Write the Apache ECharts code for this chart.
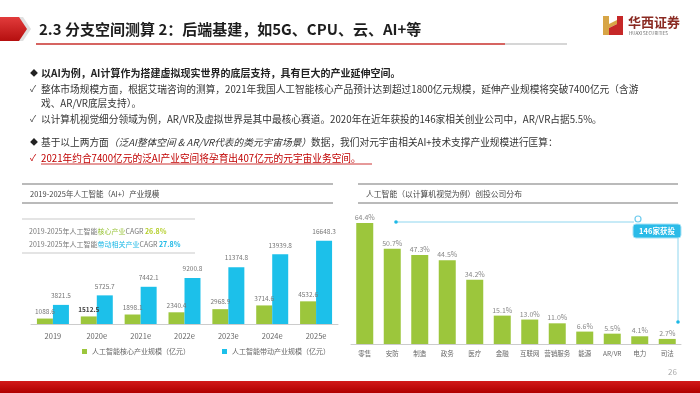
<!DOCTYPE html>
<html><head><meta charset="utf-8">
<script src="https://cdn.jsdelivr.net/npm/echarts@6/dist/echarts.min.js"></script>
<style>html,body{margin:0;padding:0;background:#fff}#c{width:700px;height:393px}</style>
</head><body><div id="c"></div>
<script>
const leftCategories = ['2019','2020e','2021e','2022e','2023e','2024e','2025e'];
const coreValues = [1088.6, 1512.5, 1898.1, 2340.4, 2968.9, 3714.6, 4532.6];
const drivenValues = [3821.5, 5725.7, 7442.1, 9200.8, 11374.8, 13939.8, 16648.3];
const coreName = '人工智能核心产业规模（亿元）';
const drivenName = '人工智能带动产业规模（亿元）';
const rightCategories = ['零售','安防','制造','政务','医疗','金融','互联网','营销服务','能源','AR/VR','电力','司法'];
const rightValues = [64.4, 50.7, 47.3, 44.5, 34.2, 15.1, 13.0, 11.0, 6.6, 5.5, 4.1, 2.7];

const GREEN = '#9cc63c', BLUE = '#1cc0ea', RED = '#c00000';
const FONT = '"Noto Sans CJK SC", "Noto Sans", sans-serif';

const chart = echarts.init(document.getElementById('c'), null, {renderer: 'canvas'});

function txt(x, y, text, style) {
  return {type: 'text', x: x, y: y, style: Object.assign({text: text, fontFamily: FONT, fontSize: 10, fill: '#333', textVerticalAlign: 'middle'}, style || {})};
}
function line(x1, y1, x2, y2, stroke, w) {
  return {type: 'line', shape: {x1: x1, y1: y1, x2: x2, y2: y2}, style: {stroke: stroke, lineWidth: w || 1}};
}

const graphics = [
  // title arrow
  {type: 'polygon', shape: {points: [[0, 17], [23, 17], [31, 29], [23, 41], [0, 41]]}, style: {fill: '#e0e0e0'}},
  {type: 'polygon', shape: {points: [[0, 17], [19, 17], [27, 29], [19, 41], [0, 41]]}, style: {fill: {type: 'linear', x: 0, y: 0, x2: 0, y2: 1, colorStops: [{offset: 0, color: '#e23b3b'}, {offset: 1, color: '#b50f0f'}]}}},
  txt(39, 29.5, '2.3 分支空间测算 2：后端基建，如5G、CPU、云、AI+等', {fontSize: 15, fontWeight: 'bold', fill: '#1e1e1e'}),
  line(36, 44, 505, 44, '#c9302c', 1.5),
  line(505, 44, 567, 44, '#c8c8c8', 1.5),
  // logo
  {type: 'polygon', shape: {points: [[603, 16], [609, 16], [609, 35], [603, 35]]}, style: {fill: '#d7a546'}},
  {type: 'polygon', shape: {points: [[609, 24], [617, 20], [617, 24], [609, 28]]}, style: {fill: '#d7a546'}},
  {type: 'polygon', shape: {points: [[617, 16], [623, 16], [623, 35], [617, 35]]}, style: {fill: '#c62828'}},
  {type: 'polygon', shape: {points: [[609, 28], [617, 24], [617, 35], [609, 35]]}, style: {fill: '#c62828'}},
  txt(628, 22, '华西证券', {fontSize: 13, fill: '#8a2a22', fontWeight: 'bold'}),
  txt(629, 33, 'HUAXI SECURITIES', {fontSize: 4.5, fill: '#666'}),
  // bullets
  txt(30, 73, '◆', {fontSize: 8, fill: '#222'}),
  txt(41, 73, '以AI为例，AI计算作为搭建虚拟现实世界的底层支持，具有巨大的产业延伸空间。', {fontSize: 10, fill: '#222', fontWeight: 'bold'}),
  txt(30, 89, '✓', {fontSize: 9, fill: '#444'}),
  txt(41, 89, '整体市场规模方面，根据艾瑞咨询的测算，2021年我国人工智能核心产品预计达到超过1800亿元规模，延伸产业规模将突破7400亿元（含游', {fontSize: 9.7, fill: '#333'}),
  txt(41, 103, '戏、AR/VR底层支持）。', {fontSize: 9.7, fill: '#333'}),
  txt(30, 119, '✓', {fontSize: 9, fill: '#444'}),
  txt(41, 119, '以计算机视觉细分领域为例，AR/VR及虚拟世界是其中最核心赛道。2020年在近年获投的146家相关创业公司中，AR/VR占据5.5%。', {fontSize: 9.7, fill: '#333'}),
  txt(30, 142, '◆', {fontSize: 8, fill: '#222'}),
  {type: 'text', x: 41, y: 142, style: {text: '{n|基于以上两方面}{i|（泛AI整体空间 & AR/VR代表的类元宇宙场景）}{n|数据，我们对元宇宙相关AI+技术支撑产业规模进行匡算：}', fontFamily: FONT, fontSize: 9.7, fill: '#333', textVerticalAlign: 'middle',
    rich: {n: {fontFamily: FONT, fontSize: 9.7, fill: '#333'}, i: {fontFamily: FONT, fontSize: 9.7, fill: '#333', fontStyle: 'italic'}}}},
  txt(30, 158, '✓', {fontSize: 9, fill: RED}),
  txt(41, 158, '2021年约合7400亿元的泛AI产业空间将孕育出407亿元的元宇宙业务空间。', {fontSize: 9.7, fill: RED}),
  line(41, 164, 372, 164, RED, 0.8),
  // left panel header
  line(22, 184, 333, 184, '#777', 1.2),
  txt(30, 194, '2019-2025年人工智能（AI+）产业规模', {fontSize: 7.5, fill: '#444'}),
  line(22, 203, 333, 203, '#777', 1.2),
  line(22, 219, 195, 219, '#bbb', 0.8),
  {type: 'text', x: 29, y: 231, style: {text: '{g|2019-2025年人工智能}{c|核心产业}{g|CAGR }{cv|26.8%}', fontFamily: FONT, fontSize: 7, textVerticalAlign: 'middle',
    rich: {g: {fontFamily: FONT, fontSize: 7, fill: '#777'}, c: {fontFamily: FONT, fontSize: 7, fill: '#9bc53d'}, cv: {fontFamily: FONT, fontSize: 7, fill: '#b5cf2c', fontWeight: 'bold'}}}},
  {type: 'text', x: 29, y: 244, style: {text: '{g|2019-2025年人工智能}{c|带动相关产业}{g|CAGR }{cv|27.8%}', fontFamily: FONT, fontSize: 7, textVerticalAlign: 'middle',
    rich: {g: {fontFamily: FONT, fontSize: 7, fill: '#777'}, c: {fontFamily: FONT, fontSize: 7, fill: '#1cb8e6'}, cv: {fontFamily: FONT, fontSize: 7, fill: '#1cb8e6', fontWeight: 'bold'}}}},
  line(22, 253, 195, 253, '#bbb', 0.8),
  // right panel header
  line(358, 184, 678, 184, '#777', 1.2),
  txt(366, 194, '人工智能（以计算机视觉为例）创投公司分布', {fontSize: 7.8, fill: '#444'}),
  line(358, 203, 678, 203, '#777', 1.2),
  // annotation
  line(396, 222, 634, 222, '#8fd6ef', 1),
  {type: 'circle', shape: {cx: 396, cy: 222, r: 1.8}, style: {fill: '#1cb8e6'}},
  {type: 'rect', shape: {x: 633, y: 224, width: 48, height: 14, r: 3}, style: {fill: '#2bbbe8', stroke: '#a8e2f5', lineWidth: 1}},
  {type: 'circle', shape: {cx: 638, cy: 219, r: 3}, style: {fill: 'none', stroke: '#6ccbee', lineWidth: 1.2}},
  txt(657, 231, '146家获投', {fontSize: 7.5, fill: '#fff', fontWeight: 'bold', textAlign: 'center'}),
  line(678, 238, 678, 322, '#8fd6ef', 1),
  {type: 'circle', shape: {cx: 678, cy: 322, r: 1.8}, style: {fill: '#1cb8e6'}},
  // footer
  txt(668, 372, '26', {fontSize: 8, fill: '#aaa'}),
  {type: 'rect', shape: {x: 0, y: 381, width: 700, height: 12}, style: {fill: {type: 'linear', x: 0, y: 0, x2: 0, y2: 1, colorStops: [{offset: 0, color: '#d21a1a'}, {offset: 1, color: '#b00000'}]}}}
];

const option = {
  animation: false,
  textStyle: {fontFamily: FONT},
  grid: [
    {left: 31, right: 362, top: 224, bottom: 69},
    {left: 351, right: 19, top: 212.4, bottom: 49}
  ],
  xAxis: [
    {type: 'category', gridIndex: 0, data: leftCategories, axisTick: {show: false},
     axisLine: {lineStyle: {color: '#ccc'}}, axisLabel: {fontSize: 7.5, color: '#666', margin: 8, fontFamily: FONT}},
    {type: 'category', gridIndex: 1, data: rightCategories, axisTick: {show: false},
     axisLine: {lineStyle: {color: '#ccc'}}, axisLabel: {fontSize: 6.5, color: '#666', margin: 6, interval: 0, fontFamily: FONT}}
  ],
  yAxis: [
    {type: 'value', gridIndex: 0, min: 0, max: 20000, show: false, splitLine: {show: false}},
    {type: 'value', gridIndex: 1, min: 0, max: 70, show: false, splitLine: {show: false}}
  ],
  legend: {
    data: [coreName, drivenName], left: 77, top: 343, itemWidth: 5, itemHeight: 5, itemGap: 32, icon: 'rect',
    textStyle: {fontSize: 7, color: '#666', fontFamily: FONT}
  },
  series: [
    {type: 'bar', name: coreName, xAxisIndex: 0, yAxisIndex: 0, barWidth: 16, barGap: '0%',
     data: coreValues.map((v, i) => i === 1 ? {value: v, label: {fontWeight: 'bold', color: '#444'}} : v),
     itemStyle: {color: GREEN},
     label: {show: true, position: 'top', distance: 4, fontSize: 6.5, color: '#777', fontFamily: FONT}},
    {type: 'bar', name: drivenName, xAxisIndex: 0, yAxisIndex: 0, barWidth: 16,
     data: drivenValues, itemStyle: {color: BLUE},
     label: {show: true, position: 'top', distance: 6, fontSize: 6.5, color: '#777', fontFamily: FONT}},
    {type: 'bar', xAxisIndex: 1, yAxisIndex: 1, barWidth: 17, data: rightValues, itemStyle: {color: GREEN},
     label: {show: true, position: 'top', distance: 2, fontSize: 7, color: '#888', fontFamily: FONT,
       formatter: p => p.value.toFixed(1) + '%'}}
  ],
  graphic: graphics
};
chart.setOption(option);
</script></body></html>
